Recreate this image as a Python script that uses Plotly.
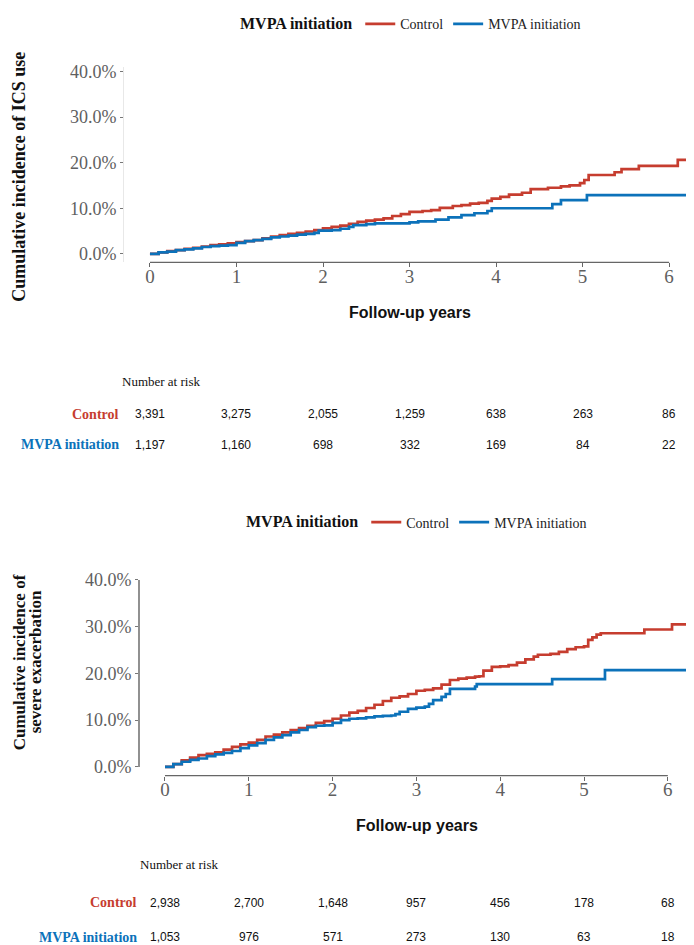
import plotly.graph_objects as go

# ---- data (cumulative incidence, %) ----
ics_ctrl_t = [0, 0.1, 0.2, 0.3, 0.4, 0.5, 0.6, 0.7, 0.8, 0.9, 1.0, 1.1, 1.2, 1.3, 1.4, 1.5, 1.6, 1.7, 1.8, 1.9,
              2.0, 2.1, 2.2, 2.3, 2.4, 2.5, 2.6, 2.7, 2.8, 2.9, 3.0, 3.15, 3.25, 3.35, 3.5, 3.6, 3.7, 3.8, 3.9,
              3.95, 4.05, 4.15, 4.3, 4.4, 4.6, 4.75, 4.85, 4.97, 5.02, 5.07, 5.37, 5.45, 5.65, 6.1, 6.25, 6.3]
ics_ctrl_v = [0, 0.3, 0.6, 0.8, 1.1, 1.3, 1.6, 1.9, 2.1, 2.3, 2.6, 2.8, 3.0, 3.4, 3.8, 4.1, 4.4, 4.6, 4.9, 5.2,
              5.6, 5.9, 6.2, 6.6, 7.0, 7.3, 7.5, 7.8, 8.3, 8.7, 9.2, 9.4, 9.6, 10.1, 10.5, 10.7, 11.0, 11.2, 11.6,
              12.1, 12.5, 13.0, 13.4, 14.2, 14.5, 14.8, 15.0, 15.5, 16.2, 17.3, 17.9, 18.6, 19.3, 20.6, 22.4, 22.4]

ics_mvpa_t = [0, 0.1, 0.2, 0.3, 0.4, 0.5, 0.6, 0.7, 0.8, 0.9, 1.0, 1.1, 1.2, 1.3, 1.4, 1.5, 1.6, 1.7, 1.8, 1.9,
              1.95, 2.1, 2.2, 2.3, 2.35, 2.5, 2.6, 2.9, 3.0, 3.1, 3.3, 3.45, 3.6, 3.75, 3.9, 3.95, 4.65, 4.75,
              5.05, 6.3]
ics_mvpa_v = [0, 0.3, 0.5, 0.8, 1.0, 1.2, 1.5, 1.7, 1.8, 1.9, 2.4, 2.8, 3.0, 3.3, 3.6, 3.8, 4.0, 4.2, 4.4, 4.6,
              5.1, 5.2, 5.5, 5.9, 6.3, 6.5, 6.7, 6.7, 6.9, 7.1, 7.5, 8.0, 8.5, 8.9, 9.4, 10.0, 10.9, 11.8,
              12.9, 12.9]

exa_ctrl_t = [0, 0.1, 0.2, 0.3, 0.4, 0.5, 0.6, 0.7, 0.8, 0.9, 1.0, 1.1, 1.2, 1.3, 1.4, 1.5, 1.6, 1.7, 1.8, 1.9,
              2.0, 2.1, 2.2, 2.3, 2.4, 2.5, 2.6, 2.7, 2.8, 2.9, 3.0, 3.1, 3.2, 3.3, 3.4, 3.5, 3.6, 3.7, 3.75,
              3.8, 3.9, 4.0, 4.1, 4.2, 4.3, 4.4, 4.45, 4.6, 4.7, 4.8, 4.9, 5.0, 5.05, 5.1, 5.15, 5.2, 5.72,
              6.05, 6.27]
exa_ctrl_v = [0, 0.6, 1.4, 2.0, 2.5, 2.8, 3.1, 3.7, 4.3, 4.8, 5.2, 5.8, 6.5, 6.9, 7.4, 7.9, 8.3, 8.8, 9.4, 9.8,
              10.3, 11.0, 11.6, 12.0, 12.6, 13.3, 14.1, 14.8, 15.1, 15.6, 16.3, 16.5, 16.8, 17.6, 18.6, 18.9,
              19.1, 19.3, 19.4, 20.6, 21.4, 21.5, 21.8, 22.3, 23.0, 23.6, 24.0, 24.2, 24.6, 25.2, 25.6, 25.8,
              27.2, 27.7, 28.3, 28.6, 29.4, 30.5, 30.5]

exa_mvpa_t = [0, 0.1, 0.2, 0.3, 0.4, 0.5, 0.6, 0.7, 0.8, 0.9, 1.0, 1.1, 1.2, 1.3, 1.4, 1.5, 1.6, 1.7, 1.8, 1.9,
              2.0, 2.1, 2.2, 2.3, 2.4, 2.5, 2.6, 2.7, 2.75, 2.8, 2.9, 3.0, 3.1, 3.15, 3.2, 3.3, 3.35, 3.4,
              3.7, 3.72, 4.62, 5.25, 6.25, 6.27]
exa_mvpa_v = [0, 0.6, 1.1, 1.5, 1.8, 2.3, 2.7, 3.0, 3.4, 4.0, 4.6, 5.1, 5.8, 6.3, 6.8, 7.4, 7.9, 8.5, 8.8, 8.9,
              9.4, 10.0, 10.3, 10.4, 10.6, 10.8, 10.9, 11.0, 11.3, 11.8, 12.4, 12.7, 12.9, 13.5, 14.3, 15.0,
              15.6, 16.7, 17.2, 17.7, 18.8, 20.7, 20.7, 26.8]

# number at risk
risk_times = [0, 1, 2, 3, 4, 5, 6]
ics_risk_ctrl = [3391, 3275, 2055, 1259, 638, 263, 86]
ics_risk_mvpa = [1197, 1160, 698, 332, 169, 84, 22]
exa_risk_ctrl = [2938, 2700, 1648, 957, 456, 178, 68]
exa_risk_mvpa = [1053, 976, 571, 273, 130, 63, 18]

year_ticks = [0, 1, 2, 3, 4, 5, 6]
pct_ticks = [0, 0.1, 0.2, 0.3, 0.4]

RED = "#C63D2F"
BLUE = "#0C72BA"
SERIF = "Liberation Serif"
SANS = "Liberation Sans"
GRAY = "#5f5f5f"

W, H = 694, 945


def px(x):
    return x / W


def py(y):
    return 1 - y / H


fig = go.Figure()

panels = [
    (ics_ctrl_t, ics_ctrl_v, ics_mvpa_t, ics_mvpa_v, "x", "y", "legend"),
    (exa_ctrl_t, exa_ctrl_v, exa_mvpa_t, exa_mvpa_v, "x2", "y2", "legend2"),
]
for ct, cv, mt, mv, xa, ya, lg in panels:
    fig.add_trace(go.Scatter(x=ct, y=[v / 100 for v in cv], mode="lines", name="Control",
                             line=dict(color=RED, width=2.7, shape="hv"), xaxis=xa, yaxis=ya, legend=lg))
    fig.add_trace(go.Scatter(x=mt, y=[v / 100 for v in mv], mode="lines", name="MVPA initiation",
                             line=dict(color=BLUE, width=2.7, shape="hv"), xaxis=xa, yaxis=ya, legend=lg))

xcommon = dict(tickvals=year_ticks, ticks="outside", ticklen=4, tickcolor="#666", tickwidth=1,
               ticklabelstandoff=-7, showline=False, showgrid=False, zeroline=False,
               tickfont=dict(family=SERIF, size=19, color=GRAY))
ycommon = dict(tickvals=pct_ticks, tickformat=".1%", ticks="outside", ticklen=3, tickcolor="#777",
               showgrid=False, zeroline=False, range=[-0.0187, 0.4093],
               tickfont=dict(family=SERIF, size=18, color=GRAY))

legend_common = dict(orientation="h", xanchor="center",
                     title=dict(text="<b>MVPA initiation</b>", side="left",
                                font=dict(family=SERIF, size=16, color="#111")),
                     font=dict(family=SERIF, size=14, color="#222"), bgcolor="rgba(0,0,0,0)")

fig.update_layout(
    width=W, height=H,
    margin=dict(l=0, r=0, t=0, b=0),
    paper_bgcolor="white", plot_bgcolor="white",
    xaxis=dict(domain=[px(116), 1], range=[-0.30, 6.38], anchor="y", **xcommon),
    yaxis=dict(domain=[py(246), py(48)], anchor="x", showline=True, linecolor="#e8e8e8", **ycommon),
    xaxis2=dict(domain=[px(131), px(690)], range=[-0.31, 6.36], anchor="y2", **xcommon),
    yaxis2=dict(domain=[py(767), py(564)], anchor="x2", showline=False, **ycommon),
    legend=dict(x=px(404), y=1 + 12 / H, yanchor="top", **legend_common),
    legend2=dict(x=px(410), y=py(510), yanchor="middle", **legend_common),
)

# axis lines that stop at the outer breaks
fig.add_shape(type="line", xref="x", yref="y domain", x0=0, x1=6, y0=0, y1=0,
              line=dict(color="#666", width=1.3))
fig.add_shape(type="line", xref="x2", yref="y2 domain", x0=0, x1=6, y0=0, y1=0,
              line=dict(color="#666", width=1.3))
fig.add_shape(type="line", xref="x2 domain", yref="y2", x0=0, x1=0, y0=0, y1=0.4,
              line=dict(color="#555", width=1.3))

# axis titles
fig.add_annotation(text="<b>Follow-up years</b>", xref="paper", yref="paper", x=px(402), y=py(297),
                   showarrow=False, font=dict(family=SANS, size=16, color="#111"), xanchor="center",
                   yanchor="middle")
fig.add_annotation(text="<b>Follow-up years</b>", xref="paper", yref="paper", x=px(409), y=py(818),
                   showarrow=False, font=dict(family=SANS, size=16, color="#111"), xanchor="center",
                   yanchor="middle")
fig.add_annotation(text="<b>Cumulative incidence of ICS use</b>", xref="paper", yref="paper",
                   x=px(11), y=py(159), textangle=-90, showarrow=False, xanchor="center", yanchor="middle",
                   font=dict(family=SERIF, size=18, color="#111"))
fig.add_annotation(text="<b>Cumulative incidence of</b>", xref="paper", yref="paper",
                   x=px(11), y=py(652), textangle=-90, showarrow=False, xanchor="center", yanchor="middle",
                   font=dict(family=SERIF, size=17, color="#111"))
fig.add_annotation(text="<b>severe exacerbation</b>", xref="paper", yref="paper",
                   x=px(27), y=py(652), textangle=-90, showarrow=False, xanchor="center", yanchor="middle",
                   font=dict(family=SERIF, size=17, color="#111"))

# number at risk tables
tables = [
    ("x", ics_risk_ctrl, ics_risk_mvpa, 367, 400, 431, 112, 113),
    ("x2", exa_risk_ctrl, exa_risk_mvpa, 857, 896, 931, 130, 131),
]
for xr, rc, rm, y_head, y_c, y_m, x_head, x_lab in tables:
    fig.add_annotation(text="Number at risk", xref="paper", yref="paper", x=px(x_head), y=py(y_head),
                       xanchor="left", yanchor="middle", showarrow=False,
                       font=dict(family=SERIF, size=13, color="#111"))
    fig.add_annotation(text="<b>Control</b>", xref="paper", yref="paper", x=px(x_lab), y=py(y_c),
                       xanchor="right", yanchor="middle", showarrow=False,
                       font=dict(family=SERIF, size=14, color=RED))
    fig.add_annotation(text="<b>MVPA initiation</b>", xref="paper", yref="paper", x=px(x_lab), y=py(y_m),
                       xanchor="right", yanchor="middle", showarrow=False,
                       font=dict(family=SERIF, size=14, color=BLUE))
    for t, a, b in zip(risk_times, rc, rm):
        fig.add_annotation(text=f"{a:,}", xref=xr, yref="paper", x=t, y=py(y_c), showarrow=False,
                           xanchor="center", yanchor="middle", font=dict(family=SANS, size=12, color="#111"))
        fig.add_annotation(text=f"{b:,}", xref=xr, yref="paper", x=t, y=py(y_m), showarrow=False,
                           xanchor="center", yanchor="middle", font=dict(family=SANS, size=12, color="#111"))

fig.write_html("out.html")
